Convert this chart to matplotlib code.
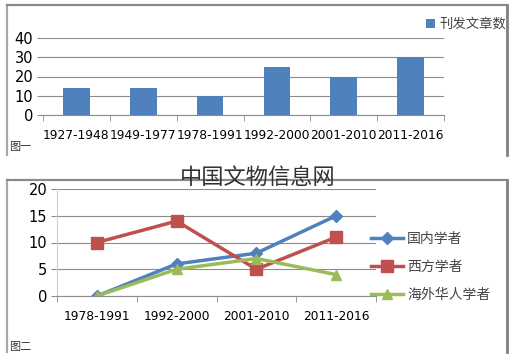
"""
Two-panel chart: article counts by period (bars) and
scholar groups by period (lines)
"""
import matplotlib
matplotlib.use("Agg")
import matplotlib.pyplot as plt
from matplotlib.lines import Line2D

CJK = ['Noto Sans CJK SC', 'DejaVu Sans']

# data
bar_periods = ["1927-1948", "1949-1977", "1978-1991", "1992-2000", "2001-2010", "2011-2016"]
bar_counts = [14, 14, 10, 25, 20, 30]
bar_label = "刊发文章数"

line_periods = ["1978-1991", "1992-2000", "2001-2010", "2011-2016"]
domestic = [0, 6, 8, 15]
western = [10, 14, 5, 11]
overseas = [0, 5, 7, 4]
line_labels = ["国内学者", "西方学者", "海外华人学者"]

BLUE = "#4F81BD"
RED = "#C0504D"
GREEN = "#9BBB59"
GRID = "#8c8c8c"


def frame(fig, top, bottom):
    """Open-bottomed panel border, pixel coords"""
    W, H = 516, 359
    xl, xr = 7 / W, 507 / W
    yt, yb = 1 - top / H, 1 - bottom / H
    fig.lines.append(Line2D([xl, xl], [yb, yt], transform=fig.transFigure,
                            color="#a8a8a8", lw=1.6))
    fig.lines.append(Line2D([xl, xr], [yt, yt], transform=fig.transFigure,
                            color="#8a8a8a", lw=1.6))
    fig.lines.append(Line2D([xr, xr], [yb, yt], transform=fig.transFigure,
                            color="#808080", lw=2.0))


def style_axis(ax, n):
    for s in ["top", "right", "left"]:
        ax.spines[s].set_visible(False)
    ax.spines["bottom"].set_color(GRID)
    ax.set_xlim(-0.5, n - 0.5)
    ax.set_xticks(range(n))
    ax.tick_params(axis="x", length=0, pad=10)
    ax.set_xticks([i - 0.5 for i in range(n + 1)], minor=True)
    ax.tick_params(axis="x", which="minor", length=4, color=GRID, direction="out")
    ax.tick_params(axis="y", length=4, color=GRID, labelsize=10.5, pad=3)
    ax.yaxis.grid(True, color=GRID, linewidth=0.8)
    ax.set_axisbelow(True)


def plot():
    fig = plt.figure(figsize=(5.16, 3.59), dpi=100)
    fig.patch.set_facecolor("white")

    frame(fig, 5, 155)
    frame(fig, 180, 352)

    # top: bar chart
    ax1 = fig.add_axes([43 / 516, 1 - 115 / 359, 401 / 516, 77 / 359])
    x1 = range(len(bar_periods))
    ax1.bar(x1, bar_counts, width=0.4, color=BLUE, label=bar_label)
    ax1.set_ylim(0, 40)
    ax1.set_yticks([0, 10, 20, 30, 40])
    style_axis(ax1, len(bar_periods))
    ax1.set_xticklabels(bar_periods, fontsize=8.8)
    leg1 = ax1.legend(loc="center left", bbox_to_anchor=(419 / 516, 1 - 24 / 359),
                      bbox_transform=fig.transFigure, frameon=False,
                      prop={'family': CJK, 'size': 9.6}, handlelength=0.7,
                      handleheight=0.7, handletextpad=0.3, borderpad=0)
    for t in leg1.get_texts():
        t.set_color("#444444")

    # bottom: line chart
    ax2 = fig.add_axes([57 / 516, 1 - 296 / 359, 319 / 516, 107 / 359])
    x2 = range(len(line_periods))
    ax2.plot(x2, domestic, color=BLUE, lw=2.5, marker="D", ms=6, label=line_labels[0])
    ax2.plot(x2, western, color=RED, lw=2.5, marker="s", ms=8, label=line_labels[1])
    ax2.plot(x2, overseas, color=GREEN, lw=2.5, marker="^", ms=7, label=line_labels[2])
    ax2.set_ylim(0, 20)
    ax2.set_yticks([0, 5, 10, 15, 20])
    style_axis(ax2, len(line_periods))
    ax2.spines["left"].set_visible(True)
    ax2.spines["left"].set_color("#cfcfcf")
    ax2.set_xticklabels(line_periods, fontsize=8.8)
    leg2 = ax2.legend(loc="center left", bbox_to_anchor=(364 / 516, 1 - 267 / 359),
                      bbox_transform=fig.transFigure, frameon=False,
                      prop={'family': CJK, 'size': 10}, handlelength=2.3,
                      handletextpad=0.3, labelspacing=1.0, borderpad=0)
    for t in leg2.get_texts():
        t.set_color("#444444")

    # captions and watermark
    fig.text(9 / 516, 1 - 147 / 359, "图一", family=CJK, fontsize=8,
             color="#333333", va="center")
    fig.text(9 / 516, 1 - 347 / 359, "图二", family=CJK, fontsize=8,
             color="#333333", va="center")
    fig.text(258 / 516, 1 - 177 / 359, "中国文物信息网", family=CJK, fontsize=16,
             fontweight="light", color="#333333", ha="center", va="center")

    fig.savefig("out.png", dpi=100, facecolor="white")


if __name__ == "__main__":
    plot()
